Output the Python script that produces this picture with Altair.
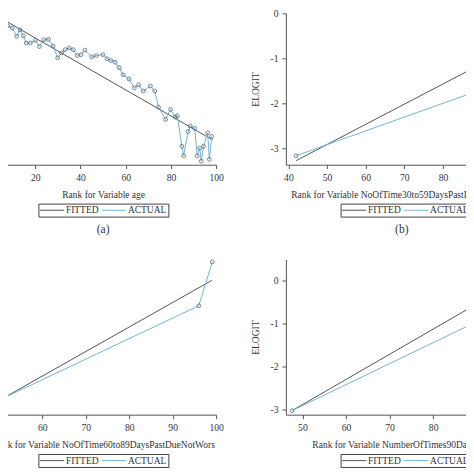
import altair as alt
import pandas as pd

FONT = "Liberation Serif"
FIT_COLOR = "#555555"
ACT_COLOR = "#72b3d6"
MARK_COLOR = "#5b6f80"
TEXT = "#333333"

# (a) Rank for Variable age
age_rank = [5.8, 7.8, 9.8, 11.8, 13.2, 14.7, 16.0, 17.8, 20.1, 21.8, 23.8, 25.8, 27.9,
            29.9, 31.6, 33.2, 35.0, 36.8, 38.6, 40.2, 41.9, 44.9, 47.0, 49.9, 51.7,
            53.4, 55.3, 57.1, 58.8, 61.4, 63.8, 65.7, 67.8, 70.9, 72.8, 74.5, 77.6,
            79.8, 81.9, 82.8, 84.8, 85.6, 87.6, 88.5, 90.5, 91.6, 92.7, 93.4, 94.4,
            96.2, 97.0, 98.0]
age_actual = [-0.22, -0.28, -0.33, -0.51, -0.37, -0.50, -0.66, -0.66, -0.60, -0.74,
              -0.59, -0.58, -0.73, -0.99, -0.88, -0.81, -0.77, -0.81, -0.94, -0.92,
              -0.82, -0.97, -0.94, -0.92, -1.01, -1.05, -1.09, -1.21, -1.37, -1.46,
              -1.66, -1.59, -1.73, -1.62, -1.73, -2.09, -2.36, -2.14, -2.31, -2.28,
              -2.96, -3.17, -2.63, -2.51, -2.56, -3.17, -3.00, -3.29, -2.96, -2.66,
              -3.25, -2.74]
age_fit_rank = [1.0, 98.5]
age_fit = [0.0, -2.82]

# (b) Rank for Variable NoOfTime30to59DaysPastDueNotWors
d30_rank = [42.0, 99.0]
d30_actual = [-3.17, -1.42]
d30_fit_rank = [42.0, 99.0]
d30_fit = [-3.28, -0.72]

# (c) Rank for Variable NoOfTime60to89DaysPastDueNotWors
d60_rank = [51.0, 96.0, 99.1]
d60_actual = [-2.74, -0.59, 0.43]
d60_fit_rank = [51.0, 99.0]
d60_fit = [-2.74, 0.0]

# (d) Rank for Variable NumberOfTimes90DaysLate
d90_rank = [47.6, 99.0]
d90_actual = [-3.03, -0.52]
d90_fit_rank = [47.6, 99.0]
d90_fit = [-3.03, -0.02]

y_ticks = [0, -1, -2, -3]


def panel(rank, actual, fit_rank, fit, xtitle, caption, xdom, ydom, xticks,
          width, height, show_y, leg_x, leg_y):
    act = pd.DataFrame({"rank": rank, "elogit": actual, "series": "ACTUAL"})
    fitted = pd.DataFrame({"rank": fit_rank, "elogit": fit, "series": "FITTED"})
    df = pd.concat([fitted, act], ignore_index=True)

    x_enc = alt.X("rank:Q",
                  scale=alt.Scale(domain=xdom, nice=False, zero=False),
                  axis=alt.Axis(values=xticks, title=xtitle))
    if show_y:
        y_axis = alt.Axis(values=y_ticks, title="ELOGIT", titlePadding=9.7,
                          labelPadding=3.8,
                          labelExpr="datum.value == 0 ? '0' : '-' + abs(datum.value)")
    else:
        y_axis = None
    y_enc = alt.Y("elogit:Q",
                  scale=alt.Scale(domain=ydom, nice=False, zero=False),
                  axis=y_axis)

    legend = alt.Legend(title=None, orient="none", direction="horizontal",
                        legendX=leg_x, legendY=leg_y,
                        symbolType="M-1.583,0H6.483", symbolSize=36,
                        symbolStrokeWidth=1, labelOffset=16.5, columnPadding=1,
                        padding=1.5, strokeColor="#444444")
    lines = alt.Chart(df).mark_line(strokeWidth=1).encode(
        x=x_enc, y=y_enc,
        color=alt.Color("series:N",
                        scale=alt.Scale(domain=["FITTED", "ACTUAL"],
                                        range=[FIT_COLOR, ACT_COLOR]),
                        legend=legend),
    )
    pts = alt.Chart(act).mark_point(shape="circle", size=15, filled=False,
                                    color=MARK_COLOR, strokeWidth=0.8,
                                    opacity=1).encode(x=x_enc, y=y_enc)
    return alt.layer(lines, pts).properties(
        width=width, height=height,
        title=alt.TitleParams(caption, orient="bottom", anchor="middle",
                              frame="group", offset=6.5),
    )


pa = panel(age_rank, age_actual, age_fit_rank, age_fit, "Rank for Variable age", "(a)",
           [0, 100], [-3.37, 0], [20, 40, 60, 80, 100], 226.1, 151.4, False,
           48.3, 151.4 + 38.9)
pb = panel(d30_rank, d30_actual, d30_fit_rank, d30_fit,
           "Rank for Variable NoOfTime30to59DaysPastDueNotWors", "(b)",
           [39.35, 99.35], [-3.37, 0], [40, 50, 60, 70, 80, 90], 231.9, 151.4, True,
           54.7, 151.4 + 38.9)
pc = panel(d60_rank, d60_actual, d60_fit_rank, d60_fit,
           "Rank for Variable NoOfTime60to89DaysPastDueNotWors", "(c)",
           [48, 100], [-3.123, 0.485], [50, 60, 70, 80, 90, 100], 226.1, 155.17, False,
           48.3, 155.17 + 39.3)
pd_ = panel(d90_rank, d90_actual, d90_fit_rank, d90_fit,
            "Rank for Variable NumberOfTimes90DaysLate", "(d)",
            [46.2, 99.4], [-3.123, 0.485], [50, 60, 70, 80, 90], 231.9, 155.17, True,
            54.7, 155.17 + 39.3)

chart = alt.concat(
    pa, pb, pc, pd_, columns=2, spacing={"row": 94.21, "column": 68.79}, bounds="flush"
).resolve_scale(
    color="independent", x="independent", y="independent"
).resolve_legend(
    color="independent"
).properties(
    padding={"left": -17.91, "top": 0.31, "right": -54.1, "bottom": 0}
).configure_view(
    stroke=None
).configure_axis(
    grid=False, domainColor="#555555", tickColor="#555555", tickSize=3.9,
    labelFont=FONT, labelFontSize=9.7, labelColor=TEXT, labelPadding=4.3,
    labelFlush=False, titleFont=FONT, titleFontSize=9.5, titleFontWeight="normal",
    titleColor=TEXT
).configure_axisX(
    labelPadding=4.3, titlePadding=6.5
).configure_legend(
    labelFont=FONT, labelFontSize=9.5, labelColor=TEXT
).configure_title(
    font=FONT, fontSize=11.6, fontWeight="normal", color=TEXT
)

chart.save("out.html", embed_options={"renderer": "svg", "actions": False})
